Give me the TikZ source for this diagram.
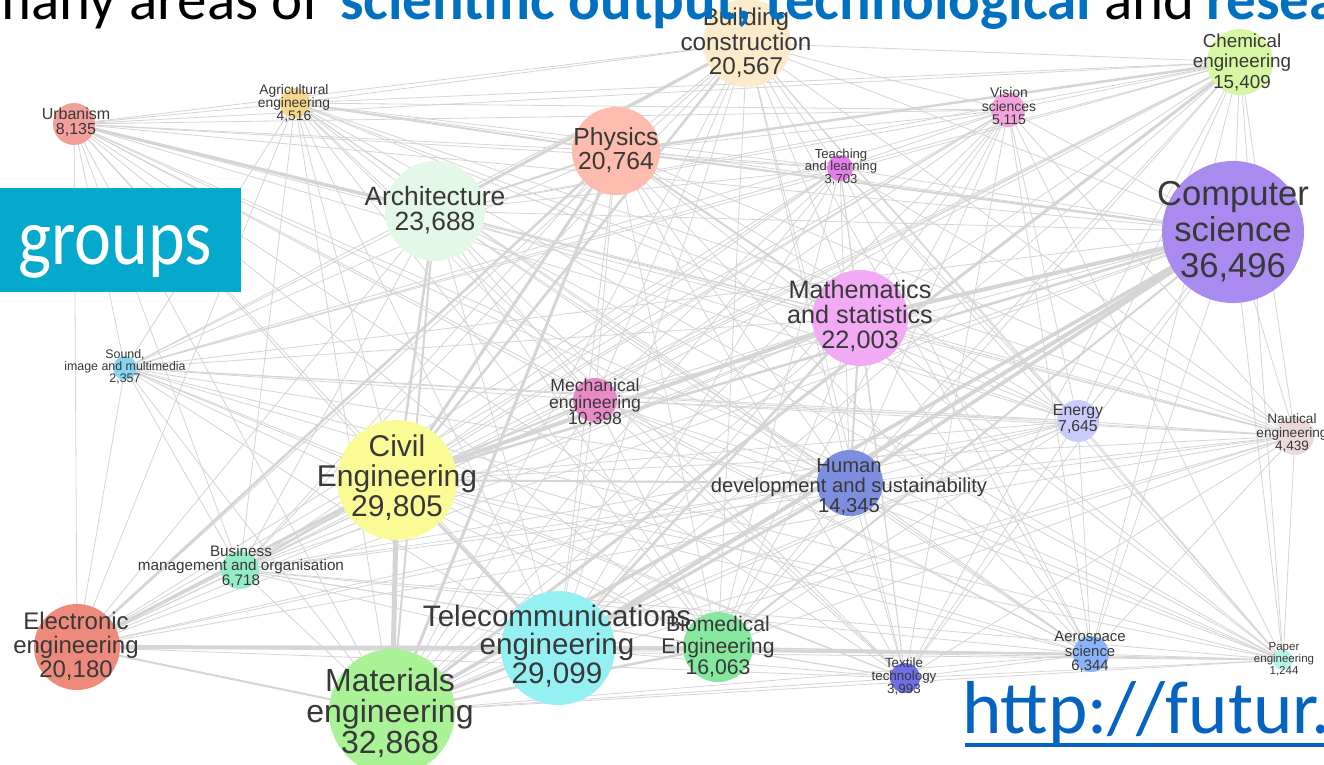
\documentclass[tikz,border=0pt]{standalone}
\usepackage{fontspec}
\setmainfont{Liberation Sans}
\newfontfamily\carlito{Carlito}
\definecolor{edgegray}{HTML}{D5D5D5}
\definecolor{labelgray}{HTML}{383838}
\definecolor{titleblue}{HTML}{0070C0}
\definecolor{urlblue}{HTML}{0563C1}
\definecolor{boxteal}{HTML}{05A9CB}
\definecolor{cBC}{HTML}{FCEBCB}
\definecolor{cCH}{HTML}{D8F7A4}
\definecolor{cUR}{HTML}{F2A09C}
\definecolor{cAG}{HTML}{F6D68C}
\definecolor{cVI}{HTML}{F4A4DC}
\definecolor{cTE}{HTML}{E37FE8}
\definecolor{cPH}{HTML}{FDBCAE}
\definecolor{cAR}{HTML}{E3F8E6}
\definecolor{cCS}{HTML}{A98AEE}
\definecolor{cMA}{HTML}{F2AAF5}
\definecolor{cSO}{HTML}{88D4EE}
\definecolor{cME}{HTML}{E98AC8}
\definecolor{cEN}{HTML}{C9CCFA}
\definecolor{cNA}{HTML}{EBD9DC}
\definecolor{cCI}{HTML}{FBFB96}
\definecolor{cHU}{HTML}{7E8EDF}
\definecolor{cBU}{HTML}{94ECC4}
\definecolor{cEL}{HTML}{EE8A7C}
\definecolor{cTC}{HTML}{95F1F1}
\definecolor{cBI}{HTML}{86E79E}
\definecolor{cMT}{HTML}{A9F296}
\definecolor{cTX}{HTML}{6F70E6}
\definecolor{cAE}{HTML}{8AB4F8}
\definecolor{cPA}{HTML}{B5F3E6}
\newcommand{\lfs}[2]{\fontsize{#1}{#2}\selectfont}
\tikzset{
  edge/.style={draw=edgegray, line width=0.8pt},
  bubble/.style={circle, inner sep=0pt, draw=none},
  lbl/.style={align=center, text=labelgray, inner sep=0pt},
  titletext/.style={anchor=base west, inner sep=0pt, font=\carlito\lfs{59}{59}},
}
\begin{document}
\begin{tikzpicture}[x=1pt,y=-1pt]
\useasboundingbox (0,0) rectangle (1324,764);
\fill[white] (0,0) rectangle (1324,764);
\clip (0,0) rectangle (1324,764);
% node centres
\coordinate (bc) at (747,43);
\coordinate (ch) at (1240,62);
\coordinate (ur) at (74,124);
\coordinate (ag) at (295,103);
\coordinate (vi) at (1008,110);
\coordinate (te) at (840,168);
\coordinate (ph) at (616,151);
\coordinate (ar) at (435,211);
\coordinate (cs) at (1233,232);
\coordinate (ma) at (860,318);
\coordinate (so) at (125,368);
\coordinate (me) at (595,400);
\coordinate (en) at (1078,421);
\coordinate (na) at (1295,436);
\coordinate (ci) at (397,480);
\coordinate (hu) at (850,483);
\coordinate (bu) at (240,570);
\coordinate (el) at (77,647);
\coordinate (tc) at (558,648);
\coordinate (bi) at (718,647);
\coordinate (mt) at (392,712);
\coordinate (tx) at (905,678);
\coordinate (ae) at (1091,654);
\coordinate (pa) at (1283,660);
% thin edges between every pair
\foreach \a [count=\i] in {bc,ch,ur,ag,vi,te,ph,ar,cs,ma,so,me,en,na,ci,hu,bu,el,tc,bi,mt,tx,ae,pa}{
  \foreach \b [count=\j] in {bc,ch,ur,ag,vi,te,ph,ar,cs,ma,so,me,en,na,ci,hu,bu,el,tc,bi,mt,tx,ae,pa}{
    \ifnum\j>\i \draw[edge] (\a) -- (\b); \fi
  }
}
% heavier edges
\foreach \a/\b/\w in {ci/mt/5, el/tc/4, tc/cs/4, ci/ma/4, ma/cs/4, mt/cs/3.5, hu/cs/3.5,
  ur/ar/3, ph/ci/3, ph/mt/3, bc/ar/3, bc/ci/2.5, ph/ch/2.5, ch/mt/3, cs/ci/2.5,
  ci/el/3, el/mt/2, mt/tc/3, tc/ae/2.5, el/bi/2, hu/tc/3, hu/ci/2, ph/ma/2, ph/cs/2,
  ar/ci/2.5, ci/tc/3, ma/tc/2.5, me/ci/2, ma/hu/2, cs/bi/2, bu/ci/2, el/ph/2.5,
  ar/ph/2, ar/mt/2, ag/ph/1.8, mt/bi/2.5}{
  \draw[edge, line width=\w pt] (\a) -- (\b);
}
% bubbles
\node[bubble, minimum size=88pt, fill=cBC] (bcN) at (bc) {};
\node[bubble, minimum size=66pt, fill=cCH] (chN) at (ch) {};
\node[bubble, minimum size=42pt, fill=cUR] (urN) at (ur) {};
\node[bubble, minimum size=30pt, fill=cAG] (agN) at (ag) {};
\node[bubble, minimum size=34pt, fill=cVI] (viN) at (vi) {};
\node[bubble, minimum size=26pt, fill=cTE] (teN) at (te) {};
\node[bubble, minimum size=88pt, fill=cPH] (phN) at (ph) {};
\node[bubble, minimum size=100pt, fill=cAR] (arN) at (ar) {};
\node[bubble, minimum size=142pt, fill=cCS] (csN) at (cs) {};
\node[bubble, minimum size=96pt, fill=cMA] (maN) at (ma) {};
\node[bubble, minimum size=24pt, fill=cSO] (soN) at (so) {};
\node[bubble, minimum size=44pt, fill=cME] (meN) at (me) {};
\node[bubble, minimum size=42pt, fill=cEN] (enN) at (en) {};
\node[bubble, minimum size=38pt, fill=cNA] (naN) at (na) {};
\node[bubble, minimum size=120pt, fill=cCI] (ciN) at (ci) {};
\node[bubble, minimum size=66pt, fill=cHU] (huN) at (hu) {};
\node[bubble, minimum size=38pt, fill=cBU] (buN) at (bu) {};
\node[bubble, minimum size=86pt, fill=cEL] (elN) at (el) {};
\node[bubble, minimum size=114pt, fill=cTC] (tcN) at (tc) {};
\node[bubble, minimum size=70pt, fill=cBI] (biN) at (bi) {};
\node[bubble, minimum size=126pt, fill=cMT] (mtN) at (mt) {};
\node[bubble, minimum size=30pt, fill=cTX] (txN) at (tx) {};
\node[bubble, minimum size=36pt, fill=cAE] (aeN) at (ae) {};
\node[bubble, minimum size=20pt, fill=cPA] (paN) at (pa) {};
% labels
\node[lbl, font=\lfs{24.3}{24.5}] (bcL) at (746,43) {Building\\construction\\20,567};
\node[lbl, font=\lfs{18.8}{20.5}] (chL) at (1242,62) {Chemical\\engineering\\15,409};
\node[lbl, font=\lfs{16}{15}] (urL) at (76,122) {Urbanism\\8,135};
\node[lbl, font=\lfs{13.8}{13}] (agL) at (294,103) {Agricultural\\engineering\\4,516};
\node[lbl, font=\lfs{14}{13.5}] (viL) at (1009,107) {Vision\\sciences\\5,115};
\node[lbl, font=\lfs{13.1}{12.8}] (teL) at (841,167) {Teaching\\and learning\\3,703};
\node[lbl, font=\lfs{24.7}{24}] (phL) at (616,150) {Physics\\20,764};
\node[lbl, font=\lfs{26.4}{25}] (arL) at (435,210) {Architecture\\23,688};
\node[lbl, font=\lfs{34.6}{36}] (csL) at (1233,232) {Computer\\science\\36,496};
\node[lbl, font=\lfs{25.2}{25}] (maL) at (860,316) {Mathematics\\and statistics\\22,003};
\node[lbl, font=\lfs{12.4}{12}] (soL) at (125,367) {Sound,\\image and multimedia\\2,357};
\node[lbl, font=\lfs{17.6}{16.5}] (meL) at (595,403) {Mechanical\\engineering\\10,398};
\node[lbl, font=\lfs{15.8}{15.5}] (enL) at (1078,419) {Energy\\7,645};
\node[lbl, font=\lfs{13.6}{13.5}] (naL) at (1292,433) {Nautical\\engineering\\4,439};
\node[lbl, font=\lfs{30}{30}] (ciL) at (397,478) {Civil\\Engineering\\29,805};
\node[lbl, font=\lfs{20.2}{20}] (huL) at (849,487) {Human\\development and sustainability\\14,345};
\node[lbl, font=\lfs{15.25}{14.5}] (buL) at (241,566) {Business\\management and organisation\\6,718};
\node[lbl, font=\lfs{24}{24}] (elL) at (76,646) {Electronic\\engineering\\20,180};
\node[lbl, font=\lfs{21.2}{21.5}] (biL) at (718,647) {Biomedical\\Engineering\\16,063};
\node[lbl, font=\lfs{29.6}{28.5}] (tcL) at (557,646) {Telecommunications\\engineering\\29,099};
\node[lbl, font=\lfs{32}{31}] (mtL) at (390,713) {Materials\\engineering\\32,868};
\node[lbl, font=\lfs{13.4}{13}] (txL) at (904,676) {Textile\\technology\\3,993};
\node[lbl, font=\lfs{14.9}{14.5}] (aeL) at (1090,652) {Aerospace\\science\\6,344};
\node[lbl, font=\lfs{11.5}{11.8}] (paL) at (1284,659) {Paper\\engineering\\1,244};
% slide overlays
\node[titletext] (title1) at (-16,19) {many areas of};
\node[titletext, text=titleblue, font=\carlito\lfs{59}{59}\bfseries] (title2) at (340,19) {scientific output, technological};
\node[titletext] (title3) at (1104,19) {and};
\node[titletext, text=titleblue, font=\carlito\lfs{59}{59}\bfseries] (title4) at (1206,19) {research};
\fill[boxteal] (0,188) rectangle (241,292);
\node[anchor=base west, inner sep=0pt, text=white, font=\carlito\lfs{70}{70}] (groups) at (18,264)
  {\scalebox{1}[1.15]{groups}};
\node[anchor=base west, inner sep=0pt, text=urlblue, font=\carlito\lfs{75}{75}] (url) at (962,733) {http://futur.};
\fill[urlblue] (965,743) rectangle (1324,747);
\end{tikzpicture}
\end{document}
